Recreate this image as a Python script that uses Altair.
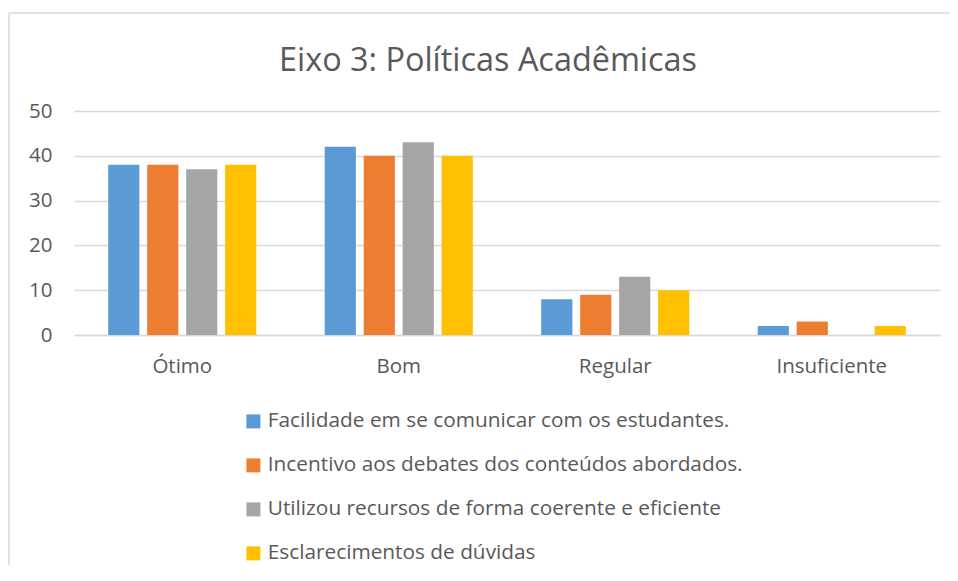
import altair as alt
import pandas as pd

categories = ["Ótimo", "Bom", "Regular", "Insuficiente"]
series = [
    "Facilidade em se comunicar com os estudantes.",
    "Incentivo aos debates dos conteúdos abordados.",
    "Utilizou recursos de forma coerente e eficiente",
    "Esclarecimentos de dúvidas",
]
facilidade = [38, 42, 8, 2]
incentivo = [38, 40, 9, 3]
recursos = [37, 43, 13, 0]
esclarecimentos = [38, 40, 10, 2]
colors = ["#5B9BD5", "#ED7D31", "#A5A5A5", "#FFC000"]
title_text = "Eixo 3: Políticas Acadêmicas"

rows = []
for s, vals in zip(series, [facilidade, incentivo, recursos, esclarecimentos]):
    for c, v in zip(categories, vals):
        rows.append({"cat": c, "serie": s, "valor": v})
df = pd.DataFrame(rows)

FONT = "Open Sans"
TXT = "#595959"

bars = alt.Chart(df).mark_bar().encode(
    x=alt.X("cat:N", sort=categories, title=None,
            scale=alt.Scale(paddingInner=0.316, paddingOuter=0.158),
            axis=alt.Axis(labelAngle=0, labelFontSize=20.5, labelColor=TXT, labelFont=FONT,
                          labelPadding=21, ticks=False, domainColor="#d9d9d9", domainWidth=1.5)),
    xOffset=alt.XOffset("serie:N", sort=series, scale=alt.Scale(paddingInner=0.2)),
    y=alt.Y("valor:Q", title=None, scale=alt.Scale(domain=[0, 50]),
            axis=alt.Axis(values=[0, 10, 20, 30, 40, 50], labelFontSize=20.5, labelColor=TXT,
                          labelFont=FONT, labelPadding=22, ticks=False, domain=False,
                          gridColor="#d9d9d9", gridWidth=1.5)),
    color=alt.Color("serie:N", sort=series, title=None,
                    scale=alt.Scale(domain=series, range=colors),
                    legend=alt.Legend(orient="none", legendX=169, legendY=300, direction="vertical",
                                      symbolType="square", symbolSize=196, symbolStrokeWidth=0,
                                      labelFontSize=20.8, labelColor=TXT, labelFont=FONT,
                                      rowPadding=22, labelLimit=700, labelOffset=4)),
)

title = alt.Chart(pd.DataFrame({"t": [title_text]})).mark_text(
    fontSize=32.4, font=FONT, color=TXT, align="center", baseline="middle"
).encode(text="t:N", x=alt.value(414), y=alt.value(-50))

border = alt.Chart(pd.DataFrame({"k": [0]})).mark_rule(color="#d9d9d9", strokeWidth=1.5).encode(
    x=alt.value(-65), y=alt.value(-98), y2=alt.value(480)
)
border_top = alt.Chart(pd.DataFrame({"k": [0]})).mark_rule(color="#d9d9d9", strokeWidth=1.5).encode(
    x=alt.value(-65), x2=alt.value(890), y=alt.value(-98)
)

chart = alt.layer(bars, title, border, border_top).properties(
    width=866, height=224,
    autosize=alt.AutoSizeParams(type="none"),
    padding={"left": 66, "top": 103, "right": 10, "bottom": 230},
).configure_view(stroke=None)

chart.save("out.html", embed_options={"renderer": "svg", "actions": False})
